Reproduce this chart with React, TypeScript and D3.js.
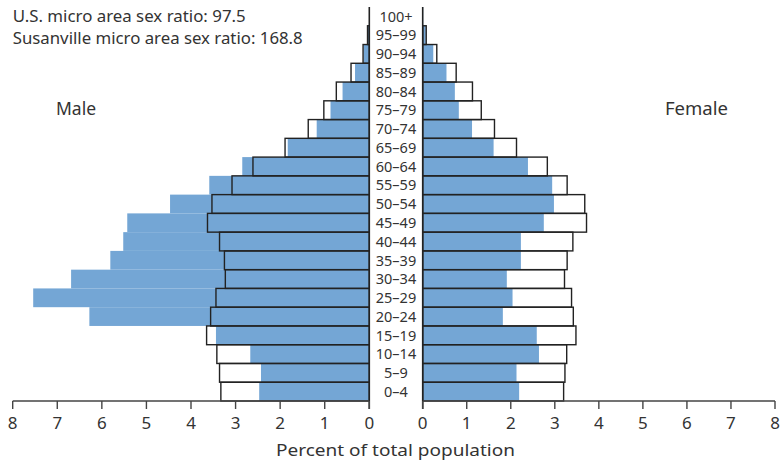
import React from "react";
import * as d3 from "d3";

const ages = ["0–4","5–9","10–14","15–19","20–24","25–29","30–34","35–39","40–44","45–49","50–54","55–59","60–64","65–69","70–74","75–79","80–84","85–89","90–94","95–99","100+"];
const maleSusanville = [2.47,2.43,2.67,3.44,6.28,7.54,6.69,5.81,5.52,5.43,4.47,3.59,2.85,1.83,1.18,0.87,0.60,0.32,0.13,0.03,0.0];
const maleUS = [3.33,3.36,3.42,3.65,3.56,3.44,3.23,3.25,3.36,3.63,3.53,3.08,2.61,1.89,1.37,1.02,0.74,0.41,0.14,0.04,0.01];
const femaleSusanville = [2.19,2.13,2.64,2.59,1.82,2.04,1.91,2.23,2.23,2.75,2.98,2.94,2.39,1.61,1.12,0.82,0.73,0.54,0.24,0.07,0.01];
const femaleUS = [3.20,3.23,3.27,3.48,3.42,3.38,3.22,3.28,3.41,3.72,3.68,3.28,2.83,2.13,1.63,1.33,1.13,0.76,0.32,0.08,0.02];
const ticks = [0,1,2,3,4,5,6,7,8];
const titleLines = ["U.S. micro area sex ratio: 97.5", "Susanville micro area sex ratio: 168.8"];

const W = 780, H = 461;
const FONT = "'Noto Sans', 'Open Sans', sans-serif";
const BLUE = "#74a6d5";
const TEXT = "#333";
const STROKE = "#222";

export default function App() {
  const axisY = 401;
  const xL = d3.scaleLinear().domain([0, 8]).range([369.3, 12.7]);
  const xR = d3.scaleLinear().domain([0, 8]).range([422.7, 775]);
  const y = d3.scaleBand<string>().domain([...ages].reverse()).range([7, axisY]).padding(0);
  const bh = y.bandwidth();

  return (
    <svg width={W} height={H} style={{ position: "absolute", left: 0, top: 0, background: "#fff" }} fontFamily={FONT}>
      {/* blue bars */}
      {ages.map((a, i) => (
        <g key={"b" + a}>
          <rect x={xL(maleSusanville[i])} y={y(a)} width={xL(0) - xL(maleSusanville[i])} height={bh} fill={BLUE} />
          <rect x={xR(0)} y={y(a)} width={xR(femaleSusanville[i]) - xR(0)} height={bh} fill={BLUE} />
        </g>
      ))}
      {/* outline bars */}
      {ages.map((a, i) => (
        <g key={"o" + a}>
          {maleUS[i] > 0.02 && (
            <rect x={xL(maleUS[i])} y={y(a)} width={xL(0) - xL(maleUS[i])} height={bh} fill="none" stroke={STROKE} strokeWidth={1.4} />
          )}
          {femaleUS[i] > 0.02 && (
            <rect x={xR(0)} y={y(a)} width={xR(femaleUS[i]) - xR(0)} height={bh} fill="none" stroke={STROKE} strokeWidth={1.4} />
          )}
        </g>
      ))}
      {/* center lines */}
      <line x1={xL(0)} x2={xL(0)} y1={7} y2={axisY + 8} stroke={STROKE} strokeWidth={1.6} />
      <line x1={xR(0)} x2={xR(0)} y1={7} y2={axisY + 8} stroke={STROKE} strokeWidth={1.6} />
      {/* age labels */}
      {ages.map((a) => (
        <text key={"l" + a} x={(xL(0) + xR(0)) / 2} y={(y(a) as number) + bh / 2} dy="0.36em" textAnchor="middle" fontSize={14.5} fill={TEXT}>
          {a}
        </text>
      ))}
      {/* axes */}
      <line x1={xL(8)} x2={xL(0)} y1={axisY} y2={axisY} stroke="#444" strokeWidth={1.4} />
      <line x1={xR(0)} x2={xR(8)} y1={axisY} y2={axisY} stroke="#444" strokeWidth={1.4} />
      {ticks.map((t) => (
        <g key={"t" + t}>
          <line x1={xL(t)} x2={xL(t)} y1={axisY} y2={axisY + 8} stroke="#444" strokeWidth={1.4} />
          <text x={xL(t)} y={429} textAnchor="middle" fontSize={17} fill={TEXT}>{t}</text>
          <line x1={xR(t)} x2={xR(t)} y1={axisY} y2={axisY + 8} stroke="#444" strokeWidth={1.4} />
          <text x={xR(t)} y={429} textAnchor="middle" fontSize={17} fill={TEXT}>{t}</text>
        </g>
      ))}
      <text x={395.5} y={456} textAnchor="middle" fontSize={17} fill={TEXT} textLength={239} lengthAdjust="spacingAndGlyphs">Percent of total population</text>
      {/* titles */}
      <text x={12.7} y={22} fontSize={15.5} fill={TEXT} textLength={233} lengthAdjust="spacingAndGlyphs">{titleLines[0]}</text>
      <text x={12.7} y={43.5} fontSize={15.5} fill={TEXT} textLength={290} lengthAdjust="spacingAndGlyphs">{titleLines[1]}</text>
      <text x={76} y={115} textAnchor="middle" fontSize={17.5} fill={TEXT}>Male</text>
      <text x={696.5} y={115} textAnchor="middle" fontSize={17.5} fill={TEXT} textLength={63} lengthAdjust="spacingAndGlyphs">Female</text>
    </svg>
  );
}
